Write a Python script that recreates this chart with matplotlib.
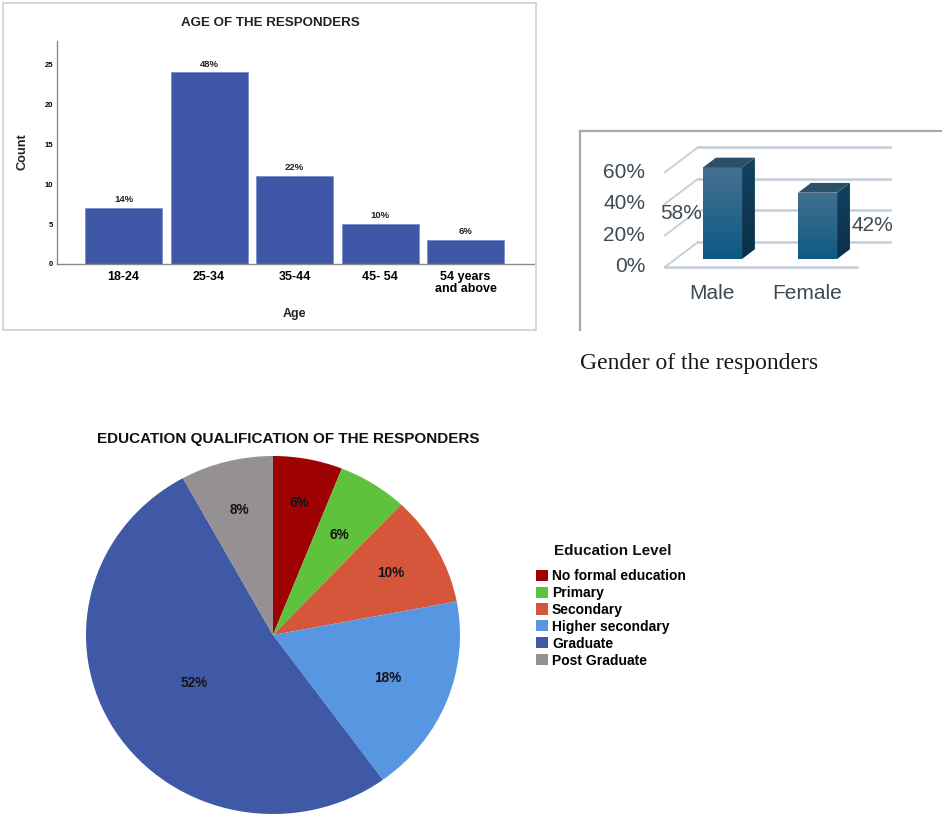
import numpy as np
import matplotlib
matplotlib.use('Agg')
import matplotlib.pyplot as plt
from matplotlib.patches import Polygon, Rectangle
from matplotlib.colors import LinearSegmentedColormap

plt.rcParams['font.family'] = ['Liberation Sans', 'DejaVu Sans']

# datos de las tres graficas
edades = ['18-24', '25-34', '35-44', '45- 54', '54 years\nand above']
edad_conteo = [7, 24, 11, 5, 3]
edad_pct = [14, 48, 22, 10, 6]

genero = ['Male', 'Female']
genero_pct = [58, 42]
genero_ticks = [0, 20, 40, 60]

estudios = ['No formal education', 'Primary', 'Secondary',
            'Higher secondary', 'Graduate', 'Post Graduate']
estudios_pct = [6, 6, 10, 18, 52, 8]
estudios_colores = ['#9e0202', '#5ec23c', '#d5563a', '#5797e2', '#3f59a7', '#959192']

W, H = 942, 816


def caja(l, t, r, b):
    # rectangulo en pixeles -> fracciones de figura
    return [l / W, 1 - b / H, (r - l) / W, (b - t) / H]


fig = plt.figure(figsize=(W / 100, H / 100), dpi=100)
fig.patch.set_facecolor('white')

# ---------------- grafico de barras de edad ----------------
fig.add_artist(Rectangle((3 / W, 1 - 330 / H), 533 / W, 327 / H,
                         transform=fig.transFigure, fill=False,
                         edgecolor='#d2d2d2', lw=1.3))

ax1 = fig.add_axes(caja(57, 41, 534, 264))
x = np.arange(len(edades))
ax1.bar(x, edad_conteo, width=0.9, color='#3e58a7', edgecolor='#7b8fcf', linewidth=0.6)
ax1.set_xlim(-0.78, 4.8)
ax1.set_ylim(0, 27.9)
ax1.set_yticks([0, 5, 10, 15, 20, 25])
ax1.set_xticks(x)
ax1.set_xticklabels(edades, fontsize=9, fontweight='bold', linespacing=1.0)
for lab in ax1.get_yticklabels():
    lab.set_fontsize(5.5)
    lab.set_fontweight('bold')
ax1.tick_params(axis='y', length=0, pad=3)
ax1.tick_params(axis='x', length=0, pad=5)
for s in ['top', 'right']:
    ax1.spines[s].set_visible(False)
for s in ['left', 'bottom']:
    ax1.spines[s].set_color('#8a8a8a')
    ax1.spines[s].set_linewidth(1.0)

for xi, v, p in zip(x, edad_conteo, edad_pct):
    ax1.text(xi, v + 0.45, f'{p}%', ha='center', va='bottom',
             fontsize=6.8, fontweight='bold', color='#222222')

fig.text(270 / W, 1 - 23 / H, 'AGE OF THE RESPONDERS', ha='center', va='center',
         fontsize=9.6, fontweight='bold', color='#222222')
fig.text(294 / W, 1 - 314 / H, 'Age', ha='center', va='center',
         fontsize=9, fontweight='bold', color='#222222')
fig.text(23 / W, 1 - 152 / H, 'Count', ha='center', va='center', rotation=90,
         fontsize=9.2, fontweight='bold', color='#222222')

# ---------------- barras 3D de genero ----------------
ax2 = fig.add_axes(caja(580, 131, 942, 330))
ax2.set_xticks([])
ax2.set_yticks([])
for s in ['bottom', 'right']:
    ax2.spines[s].set_visible(False)
for s in ['top', 'left']:
    ax2.spines[s].set_color('#a8a8a8')
    ax2.spines[s].set_linewidth(1.6)

DX, DY = 0.347, 15.8      # vector de profundidad
x0, x1 = -0.495, 1.526    # extremos del piso
gris = '#c3cfdb'
for g in genero_ticks:
    ax2.plot([x0 + DX, x1 + DX], [g + DY, g + DY], color=gris, lw=1.8, zorder=1)
    ax2.plot([x0, x0 + DX], [g, g + DY], color='#c9d0d8', lw=1.4, zorder=1)
    ax2.text(x0 - 0.21, g, f'{g}%', ha='right', va='center',
             fontsize=15, color='#3e4954')
ax2.plot([x0, x1], [0, 0], color=gris, lw=1.8, zorder=1)

frente = LinearSegmentedColormap.from_list('frente', ['#0d5a86', '#44708f'])
lado = LinearSegmentedColormap.from_list('lado', ['#0a3049', '#12425f'])
grad = np.linspace(0, 1, 100).reshape(-1, 1)

d0, d1, w = 0.32, 0.71, 0.205
dd = d1 - d0
for i, v in enumerate(genero_pct):
    xl = i + d0 * DX - w
    xr = i + d0 * DX + w
    yb = d0 * DY
    yt = yb + v
    cara = Polygon([(xl, yb), (xr, yb), (xr, yt), (xl, yt)], closed=True,
                   facecolor='none', edgecolor='none')
    ax2.add_patch(cara)
    im = ax2.imshow(grad, cmap=frente, extent=[xl, xr, yb, yt], origin='lower',
                    aspect='auto', zorder=3)
    im.set_clip_path(cara)
    costado = Polygon([(xr, yb), (xr + dd * DX, yb + dd * DY),
                       (xr + dd * DX, yt + dd * DY), (xr, yt)], closed=True,
                      facecolor='none', edgecolor='none')
    ax2.add_patch(costado)
    im2 = ax2.imshow(grad, cmap=lado, extent=[xr, xr + dd * DX, yb, yt + dd * DY],
                     origin='lower', aspect='auto', zorder=3)
    im2.set_clip_path(costado)
    techo = Polygon([(xl, yt), (xr, yt), (xr + dd * DX, yt + dd * DY),
                     (xl + dd * DX, yt + dd * DY)], closed=True,
                    facecolor='#2c5068', edgecolor='none', zorder=3)
    ax2.add_patch(techo)
    if i == 0:
        ax2.text(xl - 0.01, yb + v / 2, f'{v}%', ha='right', va='center',
                 fontsize=15, color='#3e4954', zorder=4)
    else:
        ax2.text(xr + dd * DX + 0.02, yb + v / 2, f'{v}%', ha='left', va='center',
                 fontsize=15, color='#3e4954', zorder=4)
    ax2.text(i, -16.5, genero[i], ha='center', va='center',
             fontsize=15, color='#3e4954')

ax2.set_xlim(-1.389, 2.42)
ax2.set_ylim(-39.9, 86.1)

fig.text(580 / W, 1 - 363 / H, 'Gender of the responders', ha='left', va='center',
         fontsize=17, family='Liberation Serif', color='#1a1a1a')

# ---------------- pastel de estudios ----------------
ax3 = fig.add_axes(caja(86, 456, 460, 814))
cunas, _ = ax3.pie(estudios_pct, colors=estudios_colores, startangle=90,
                   counterclock=False, radius=1,
                   wedgeprops=dict(linewidth=0, edgecolor='none'))
ax3.set_aspect('auto')
ax3.set_xlim(-1, 1)
ax3.set_ylim(-1, 1)
ax3.axis('off')

dist = [0.75, 0.66, 0.72, 0.66, 0.5, 0.72]
for cuna, p, r in zip(cunas, estudios_pct, dist):
    ang = np.deg2rad((cuna.theta1 + cuna.theta2) / 2)
    ax3.text(r * np.cos(ang), r * np.sin(ang), f'{p}%', ha='center', va='center',
             fontsize=9.8, fontweight='bold', color='#151515')

fig.text(288 / W, 1 - 439 / H, 'EDUCATION QUALIFICATION OF THE RESPONDERS',
         ha='center', va='center', fontsize=11, fontweight='bold', color='#111111')

# leyenda con titulo aparte para dejar mas aire
fig.text(613 / W, 1 - 551 / H, 'Education Level', ha='center', va='center',
         fontsize=11, fontweight='bold', color='#111111')
leg = ax3.legend(cunas, estudios, loc='upper left',
                 bbox_to_anchor=(536 / W, 1 - 569 / H), bbox_transform=fig.transFigure,
                 frameon=False, prop=dict(size=10, weight='bold'),
                 handlelength=0.85, handleheight=0.85, handletextpad=0.3,
                 labelspacing=0.21, borderpad=0, borderaxespad=0)

fig.savefig('out.png', dpi=100, facecolor='white')
